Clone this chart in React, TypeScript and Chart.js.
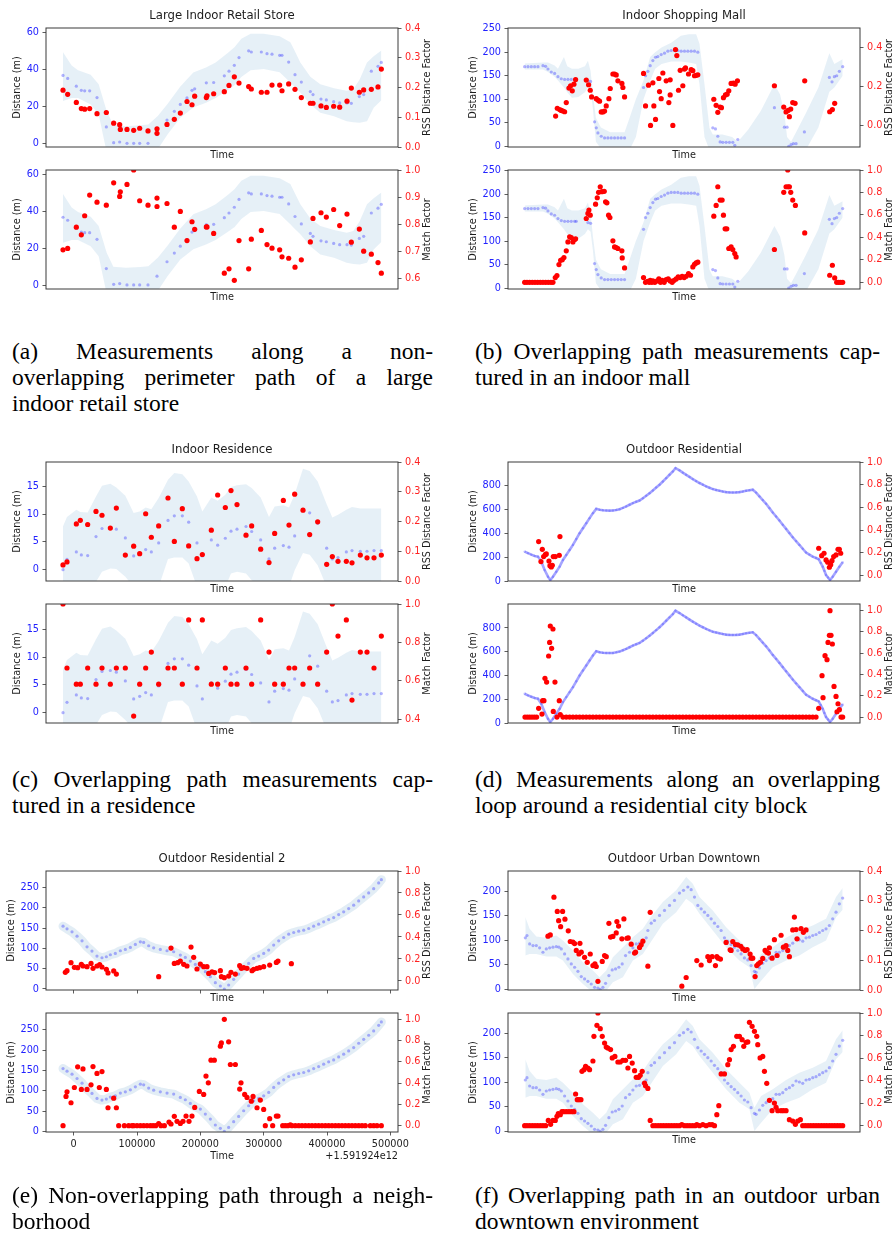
import React, { useEffect, useRef } from "react";
import { Chart, registerables } from "chart.js";
Chart.register(...registerables);

const FONT = '"DejaVu Sans", sans-serif';
const PW = 352;
const PH = 119;

// ---------------- (a) Large Indoor Retail Store ----------------
const A_BLUE_T = [0,14,40,55,65,80,102,130,152,170,192,212,230,255,282,312,334,352,372,387,395,430,452,484,498,514,528,557,565,595,612,627,650,657,677,696,715,742,750,774,790,812,830,852,865,889,902,925,945,955];
const A_BLUE = [36.7,35.1,30.9,28.7,28.4,28.4,24.8,9.0,0.5,0.9,0.2,0.2,0.2,0.2,4.9,12.7,17.4,21.1,24.6,28.7,29.5,32.7,32.9,36.5,39.0,42.1,46.3,49.9,49.3,49.3,48.4,48.1,47.5,47.5,43.9,37.1,33.1,28.0,26.4,24.0,23.5,22.6,21.9,21.9,21.7,25.3,26.4,39.0,41.6,43.7];
const A_BAND_T = [0,26,45,83,107,131,151,189,232,256,285,314,352,391,429,458,496,515,535,563,602,650,682,692,712,742,772,813,851,871,890,912,932,955];
const A_BAND_HI = [49.2,42,39.5,37,32,17.5,10,9.4,9.9,10.3,15,21.5,30.7,38.3,41,43.7,49,52,56.4,59.1,59.1,57.8,54.6,51,43.7,36,32,29.8,28.4,29.3,34.5,43.7,47,50.1];
const A_BAND_LO = [23,24.5,24.5,21,15.7,-4.5,-9.6,-9.6,-9.6,-9.6,-2.8,5,13.9,19.5,22,24.5,29,31.5,35.8,39.5,40.1,38.4,32.9,31,27.5,21.1,16.6,14.8,12.1,11.5,11.2,12.1,19.3,23.3];
const A_RED_T = [0,14,40,55,65,80,102,130,152,170,172,192,212,230,255,282,282,312,334,352,372,387,395,430,432,452,484,498,514,528,557,565,595,612,627,650,657,677,696,715,742,750,774,790,812,830,852,865,889,902,925,945,955];
const A_RSS = [0.191,0.177,0.150,0.129,0.127,0.129,0.112,0.116,0.080,0.075,0.059,0.059,0.056,0.063,0.054,0.061,0.046,0.076,0.093,0.114,0.153,0.142,0.171,0.166,0.172,0.179,0.186,0.207,0.236,0.215,0.203,0.195,0.184,0.184,0.208,0.208,0.189,0.212,0.194,0.166,0.147,0.147,0.138,0.133,0.137,0.134,0.154,0.198,0.184,0.192,0.194,0.202,0.262];
const A_MF = [0.707,0.712,0.790,0.762,0.832,0.908,0.882,0.871,0.953,0.903,0.920,0.947,1.0,0.887,0.871,0.897,0.866,0.877,0.790,0.848,0.741,0.810,0.782,0.791,0.791,0.767,0.621,0.637,0.595,0.741,0.637,0.746,0.778,0.726,0.713,0.707,0.681,0.676,0.643,0.670,0.736,0.822,0.843,0.827,0.855,0.796,0.838,0.735,0.783,0.702,0.691,0.660,0.621];

// ---------------- (b) Indoor Shopping Mall ----------------
const B_BLUE_T = [0,10,20,30,40,55,63,70,80,90,100,110,120,130,140,150,155,190,198,210,215,220,230,240,250,260,270,280,290,300,357,363,370,377,385,393,400,410,420,430,440,450,460,470,480,490,500,510,520,565,573,580,587,595,605,615,625,631,640,750,780,788,793,800,807,815,840,915,923,930,937,945,955];
const B_BLUE = [169.3,169.3,169.3,169.3,169.3,171.4,170,164.3,157.9,155,147.9,143.6,142.1,142.1,142.1,142.1,142.1,139.3,137.9,52.1,39.3,28.6,21.4,17.9,17.9,17.9,17.9,17.9,17.9,17.9,125,150,159.3,171.4,182.1,189.3,190.7,195,197.9,202.1,203.6,203.6,203.6,202.1,202.1,202.1,202.1,202.1,200,39.3,37.1,21.4,9.3,8.6,8.6,8.6,8.6,2.1,14.3,82.1,40.7,40.7,0,3.6,5.7,5.7,30.7,146.4,137.1,147.9,150,159.3,169.3];
const B_BAND_T = [0,55,70,90,100,118,128,142,161,181,190,198,205,214,229,257,300,315,334,357,377,392,411,440,469,493,515,525,540,555,565,594,623,640,671,709,750,767,780,788,800,815,844,882,915,930,955];
const B_BAND_LO = [163,163,158,148,140,125,115,103,105,115,125,120,80,10,-5,-8,-8,-8,20,100,140,165,175,180,180,178,175,132,20,-8,-8,-8,-8,-8,-8,-8,-8,-8,-8,-8,-8,-8,-8,40,116,125,150];
const B_BAND_HI = [176,178,178,172,165,190,170,165,165,170,182,160,110,60,40,30,30,60,100,140,190,200,210,220,235,238,238,218,132,39,25,25,20,10,35,75,132,110,70,20,10,30,70,125,198,175,185];
const B_RSS_T = [93,98,105,110,115,120,125,133,138,143,148,153,185,192,197,201,215,220,225,230,235,240,245,253,257,265,270,275,280,292,295,300,357,363,372,378,385,388,393,403,405,410,415,425,433,437,437,445,453,457,462,467,475,480,483,492,500,505,510,515,520,568,575,580,587,591,597,603,608,613,620,627,632,639,750,778,785,791,795,799,805,812,841,916,924,931];
const B_RSS = [0.048,0.088,0.081,0.077,0.074,0.070,0.117,0.191,0.203,0.177,0.211,0.235,0.232,0.208,0.180,0.146,0.137,0.130,0.124,0.069,0.069,0.074,0.100,0.137,0.189,0.263,0.263,0.258,0.228,0.215,0.194,0.146,0.266,0.100,0.206,0.000,0.218,0.100,0.031,0.240,0.173,0.137,0.268,0.228,0.117,0.156,0.233,0.000,0.388,0.357,0.180,0.282,0.203,0.288,0.294,0.263,0.285,0.280,0.254,0.256,0.259,0.134,0.103,0.067,0.094,0.091,0.142,0.156,0.160,0.177,0.215,0.216,0.211,0.228,0.203,0.094,0.069,0.077,0.045,0.084,0.117,0.113,0.228,0.070,0.081,0.113];
const B_MF_T = [0,7,15,23,31,39,47,55,63,71,79,85,92,97,103,108,113,118,125,130,135,140,145,150,153,185,190,193,197,213,218,222,227,232,239,243,247,252,256,265,270,275,280,292,293,300,357,363,369,374,377,382,385,391,398,403,408,413,419,425,431,437,443,449,455,461,467,473,479,485,492,498,505,510,515,520,568,575,580,587,593,597,602,607,613,620,625,631,635,750,778,785,790,791,795,799,805,813,841,916,924,931,937,943,949,955];
const B_MF = [0,0,0,0,0,0,0,0,0,0,0,0,0.042,0.060,0.158,0.196,0.202,0.220,0.280,0.360,0.405,0.399,0.360,0.381,0.387,0.568,0.613,0.643,0.598,0.696,0.753,0.801,0.851,0.807,0.810,0.717,0.708,0.598,0.577,0.369,0.315,0.310,0.301,0.280,0.217,0.128,0.042,0,0.009,0,0.018,0,0.012,0,0.012,0.030,0,0.018,0,0.024,0.030,0.012,0,0.018,0.030,0.048,0.042,0.054,0.042,0.054,0.077,0.063,0.137,0.161,0.173,0.179,0.589,0.685,0.851,0.732,0.732,0.598,0.476,0.476,0.301,0.315,0.292,0.256,0.226,0.292,0.801,0.851,1.0,0.851,0.851,0.801,0.732,0.685,0.440,0.063,0.152,0.039,0,0,0,0];

// ---------------- (c) Indoor Residence ----------------
const C_BLUE_T = [0,12,40,55,74,99,117,142,160,187,212,230,248,265,287,315,334,358,377,402,418,445,464,487,504,522,549,566,593,618,635,661,678,695,740,764,791,808,825,850,867,892,912,933,955];
const C_BLUE = [0,1.87,3.19,2.65,2.53,5.96,7.41,7.59,7.29,5.72,2.47,2.95,3.61,3.19,4.82,8.86,9.7,9.7,8.55,4.82,2.47,5.36,4.4,5.66,6.93,7.29,7.77,6.87,5.36,1.93,3.86,4.34,4.04,6.08,10.24,8.37,3.86,1.93,2.17,3.19,3.43,3.31,3.31,3.43,3.43];
const C_T = [0,12,40,52,74,99,117,142,160,187,212,230,248,265,287,315,334,358,377,402,418,445,464,487,504,522,549,566,593,618,635,661,678,695,720,740,764,791,808,825,850,867,892,912,933,955];
const C_BAND_HI = [7.8,9.5,10.8,10.4,10.3,13.2,15.1,15.5,14.8,13.3,10.2,10.5,11.2,10.9,12.9,16.2,17.4,17.2,15.9,13.2,10.5,13.0,12.4,13.5,14.9,15.2,15.4,14.7,13.0,9.5,11.4,11.6,11.2,13.6,18.2,17.8,15.9,11.8,9.4,9.9,10.8,11.3,11.0,11.0,11.0,11.0];
const C_BAND_LO = [-3.1,-3.1,-3.1,-3.1,-3.1,-2.2,-0.4,0.2,0.1,-1.3,-3.1,-3.1,-3.1,-3.1,-3.1,1.9,2.2,2.2,1.1,-3.1,-3.1,-3.1,-3.1,-3.1,-0.7,-0.4,-0.7,-1.9,-3.1,-3.1,-3.1,-3.1,-3.1,-0.1,3.0,2.7,0.8,-3.1,-3.1,-3.1,-3.1,-3.1,-3.1,-3.1,-3.1,-3.1];
const C_RSS = [0.054,0.064,0.192,0.204,0.190,0.234,0.221,0.178,0.245,0.087,0.117,0.092,0.226,0.147,0.185,0.279,0.133,0.243,0.118,0.075,0.089,0.171,0.289,0.247,0.304,0.257,0.154,0.185,0.107,0.062,0.160,0.271,0.188,0.292,0.238,0.156,0.199,0.056,0.082,0.066,0.066,0.061,0.087,0.078,0.078,0.087];
const C_MF = [1.0,0.667,0.583,0.583,0.667,0.583,0.667,0.583,0.667,0.667,0.417,0.583,0.667,0.75,0.583,0.667,0.667,0.583,0.917,0.667,0.917,0.583,0.583,0.667,0.583,0.583,0.667,0.583,0.917,0.75,0.583,0.583,0.667,0.667,0.583,0.667,0.583,0.75,1.0,0.833,0.917,0.5,0.75,0.75,0.667,0.833];

// ---------------- (d) Outdoor Residential ----------------
const D_BLUE_T = [0,10,20,30,40,50,60,70,77,85,95,105,115,125,135,145,155,165,175,185,195,205,215,225,235,245,255,265,275,285,295,305,315,325,335,345,355,365,375,385,395,405,415,425,435,445,453,465,475,485,495,505,515,525,535,545,555,565,575,585,595,605,615,625,635,645,655,665,675,685,695,705,715,725,735,745,755,765,775,785,795,805,815,825,835,845,855,865,875,883,889,895,900,905,911,917,925,935,945,955];
const D_BLUE = [246,233,221,210,204,162,92,36,8,36,78,120,176,218,260,302,351,400,442,484,526,568,604,596,592,590,589,590,595,601,612,624,638,652,663,674,693,713,735,758,782,806,833,861,889,917,945,926,907,889,871,853,836,820,806,792,780,769,762,755,749,744,742,741,742,744,749,755,760,764,740,708,677,646,610,573,540,506,471,436,401,366,334,302,270,238,221,204,192,182,151,120,85,50,29,8,36,78,120,157];
const D_RSS_T = [42,49,53,57,62,65,73,76,80,83,86,92,104,106,883,892,899,905,910,915,919,923,928,935,941,945,949];
const D_RSS = [0.300,0.124,0.232,0.168,0.185,0.191,0.129,0.088,0.076,0.091,0.168,0.168,0.179,0.344,0.241,0.176,0.197,0.138,0.118,0.074,0.097,0.132,0.168,0.182,0.232,0.232,0.197];
const D_MF_T = [1,8,15,22,29,36,42,52,54,58,61,66,72,75,77,81,85,86,91,97,104,107,
  115,125,135,145,155,165,175,185,195,205,215,225,235,245,255,265,275,285,295,305,315,325,335,345,355,365,375,385,395,405,415,425,435,445,455,465,475,485,495,505,515,525,535,545,555,565,575,585,595,605,615,625,635,645,655,665,675,685,695,705,715,725,735,745,755,765,775,785,795,805,815,825,835,845,855,865,875,
  883,893,896,902,908,911,915,917,920,924,929,935,938,941,945,950,955];
const D_MF = [0,0,0,0,0,0,0.082,0.028,0.154,0.154,0.364,0.329,0.574,0.702,0.856,0.646,0.828,0.053,0.329,0,0.154,0.022,
  0,0,0,0,0,0,0,0,0,0, 0,0,0,0,0,0,0,0,0,0, 0,0,0,0,0,0,0,0,0,0, 0,0,0,0,0,0,0,0,0,0, 0,0,0,0,0,0,0,0,0,0, 0,0,0,0,0,0,0,0,0,0, 0,0,0,0,0,0,0,0,0,0, 0,0,0,0,0,0,0,
  0.082,0.389,0.182,0.577,0.539,0.702,0.768,1.0,0.768,0.687,0.288,0.194,0.050,0.125,0.069,0,0];

// ---------------- (e) Outdoor Residential 2 (time in ms, offset 1.591924e12) ----------------
const E_BLUE_T = [-16800,-10500,-2600,5300,13200,21100,28900,36800,44700,51600,57900,65800,73700,81600,89500,97400,105300,110500,118400,126300,136800,147400,157900,168400,176300,184200,192100,200000,207900,215800,223700,231600,237900,244700,252600,260500,268400,276300,284200,292100,300000,307900,315800,323700,331600,339500,347400,355300,363200,371100,378900,386800,394700,402600,410500,418400,426300,434200,442100,450000,457900,465800,473700,481600,485800];
const E_BLUE = [154.9,148.4,141,130.3,118.9,104.1,93.4,81.1,77,79.5,84.4,87.7,94.3,97.5,102.5,109.8,116.4,114.8,106.6,101.6,97.5,94.3,91.8,83.6,77.9,68.9,60.7,54.9,42.6,30.3,15.6,7.4,0,9.8,23.8,36.9,50.8,63.1,75.4,81.1,87.7,95.9,108.2,118.9,127,135.2,139.3,142.6,145.1,149.2,154.9,159.8,165.6,171.3,176.2,183.6,190.2,198.4,206.6,217.2,227,236.9,247.5,261.5,269.7];
const E_RSS_T = [-13200,-10500,-4200,1100,6300,12100,14700,21100,27400,30500,36800,41100,44700,51600,54200,63200,67400,134200,153700,158900,164200,168400,173700,178900,185300,189500,194700,200000,205300,210500,213200,218400,222600,231600,233200,237900,244700,248400,255300,262100,264700,268400,273700,281600,284200,289500,293700,300000,309500,320000,322600,343700];
const E_RSS = [0.079,0.094,0.166,0.124,0.121,0.151,0.136,0.130,0.160,0.115,0.136,0.148,0.127,0.106,0.073,0.091,0.063,0.039,0.299,0.160,0.166,0.181,0.151,0.136,0.308,0.215,0.109,0.154,0.130,0.130,0.069,0.082,0.076,0.094,0.039,0.030,0.045,0.079,0.063,0.139,0.115,0.121,0.115,0.094,0.106,0.115,0.121,0.130,0.145,0.169,0.181,0.157];
const E_MF_T = [-16800,-12100,-10500,-4200,1100,6300,12100,14700,21100,27400,30500,36800,40500,44700,51600,54200,63200,67400,71100,80000,86800,92100,94700,100000,105300,110500,115800,121100,125300,129500,134200,137900,143200,150500,153700,158900,163200,168400,172600,177400,182100,186800,191100,198400,205300,208900,212600,216800,222100,231600,233200,237900,244700,247400,255300,262100,264200,270000,273700,280500,283200,289500,294700,300000,302600,309500,314200,320000,322600,330000,334200,338400,342100,344700,350000,355300,360500,365800,371100,376300,381600,386800,392100,397400,402600,407900,413200,418400,423700,428900,434200,439500,444700,450000,455300,460500,468400,473700,478900,485800];
const E_MF = [0,0.275,0.319,0.216,0.359,0.553,0.341,0.534,0.341,0.384,
  0.556,0.491,0.359,0.509,0.341,0.169,0.259,0.169,0,0,
  0,0,0,0,0,0,0,0,0,0,
  0.019,0,0,0.034,0.016,0.088,0.041,0.022,0.041,0.091,
  0.041,0.091,0.172,0.322,0.294,0.466,0.403,0.616,0.616,0.747,
  0.778,1.0,0.788,0.575,0.575,0.344,0.403,0.294,0.266,0.231,
  0.275,0.169,0.241,0.153,0,0.066,0,0.091,0.091,0,
  0,0,0.009,0,0,0,0,0,0,0,
  0,0,0,0,0,0,0,0,0,0,
  0,0,0,0,0,0,0,0,0,0];
const E_X_TICKS = [0,100000,200000,300000,400000,500000];

// ---------------- (f) Outdoor Urban Downtown ----------------
const F_BLUE_T = [2,7,15,25,35,45,55,65,75,85,95,103,110,120,130,140,150,160,170,180,190,200,210,220,227,235,243,253,263,273,283,293,303,315,325,335,345,355,365,370,380,390,405,420,435,450,465,477,490,500,510,520,530,540,550,560,570,580,590,600,610,620,630,640,650,660,670,680,690,695,705,715,725,735,745,755,765,775,785,795,805,815,825,835,845,855,865,875,885,895,905,915,925,935,945,955];
const F_BLUE = [104.8,109.5,92.5,89.1,89.1,84.4,75.5,82.3,84.4,85.7,87.1,85.7,82.3,72.1,61.9,51.7,44.9,36.7,25.9,21.1,16.3,10.9,4.1,2.7,0,4.1,12.2,27.9,39.5,41.5,44.9,51.7,68.7,75.5,84.4,92.5,93.9,98,104.8,119.7,134.7,140.1,150.3,160.5,170.7,181,195.9,201.4,208.2,202.7,187.8,170.7,163.9,157.1,150.3,143.5,134.7,127.9,119.7,104.8,98,91.2,85.7,78.9,72.1,63.9,59.9,48.3,36.7,34.7,43.5,53.1,58.5,63.9,66.7,75.5,75.5,78.9,85.7,89.1,93.9,102.7,100.7,98,104.8,106.1,109.5,111.6,115.6,119.7,123.1,129.9,143.5,157.1,174.1,185.7];
const F_BAND_T = [2,15,35,65,95,115,145,175,205,225,245,265,295,325,355,375,415,455,485,505,525,565,605,645,675,690,710,745,785,825,865,905,935,955];
const F_BAND_HI = [146.9,123.1,107.5,104.8,109.5,99.3,78.9,55.1,38.1,24.5,38.1,65.3,85.7,106.1,123.1,143.5,177.6,201.4,228.6,215,187.8,160.5,126.5,99.3,78.9,48.3,72.1,85.7,104.8,119.7,129.9,143.5,187.8,206.1];
const F_BAND_LO = [68.7,72.1,72.1,66.7,66.7,58.5,31.3,10.9,-6.1,-8.2,-2.7,14.3,24.5,58.5,72.1,92.5,133.3,157.1,184.4,174.1,153.7,119.7,85.7,58.5,44.9,0.7,17.7,44.9,58.5,68.7,85.7,99.3,146.9,161.9];
const F_RSS_T = [70,77,88,98,102,108,114,121,131,137,145,150,155,163,166,170,180,188,197,205,211,215,220,233,240,245,253,258,265,275,277,282,292,298,307,311,320,330,333,345,350,355,370,377,472,485,517,530,550,555,563,573,577,581,588,605,617,620,625,633,640,649,655,662,668,677,680,685,692,697,702,708,715,722,727,732,735,743,750,758,770,777,785,790,795,805,810,815,818,830,837,845];
const F_RSS = [0.181,0.185,0.312,0.264,0.233,0.213,0.264,0.238,0.199,0.163,0.161,0.156,0.133,0.121,0.157,0.127,0.110,0.093,0.121,0.082,0.088,0.079,0.029,0.096,0.116,0.112,0.224,0.178,0.180,0.192,0.230,0.215,0.172,0.239,0.174,0.175,0.154,0.124,0.127,0.143,0.152,0.164,0.080,0.261,0.013,0.042,0.099,0.084,0.112,0.099,0.112,0.082,0.112,0.107,0.104,0.160,0.135,0.133,0.163,0.153,0.152,0.147,0.138,0.133,0.136,0.121,0.107,0.107,0.045,0.082,0.088,0.093,0.106,0.133,0.127,0.124,0.142,0.107,0.169,0.116,0.184,0.144,0.149,0.133,0.112,0.202,0.245,0.203,0.172,0.206,0.194,0.202];
const F_MF_T = [0,7,15,23,31,39,47,55,63,
  71,78,85,92,97,101,107,112,117,125,133,141,148,153,158,163,169,172,178,183,190,195,205,208,217,220,227,233,240,245,250,258,263,271,280,287,295,303,310,315,323,330,335,342,347,353,360,363,370,377,
  385,393,401,409,417,425,433,441,449,457,465,472,480,488,496,504,512,517,525,535,545,555,563,570,
  577,583,590,600,610,615,620,627,637,645,653,658,665,670,675,683,690,697,700,707,715,720,727,735,743,750,755,760,770,777,785,795,805,813,820,828,835,
  843,851,859,867,875,883,891,899,907,915,923,931,939,947,955];
const F_MF = [0,0,0,0,0,0,0,0,0,
  0.047,0.012,0.047,0.047,0.083,0.107,0.098,0.124,0.124,0.124,0.124,0.124,0.124,0.281,0.231,0.231,0.231,0.482,0.497,0.527,0.512,0.497,0.574,0.793,0.891,1.0,0.861,0.793,0.734,0.698,0.689,0.675,0.601,0.615,0.565,0.565,0.580,0.580,0.512,0.615,0.556,0.488,0.429,0.429,0.447,0.482,0.379,0.355,0.331,0.047,
  0,0,0,0,0,0,0,0,0,0,0,0.009,0,0,0,0,0,0.009,0,0.009,0,0.009,0.009,0,
  0.098,0.178,0.459,0.459,0.541,0.586,0.675,0.704,0.793,0.793,0.763,0.704,0.740,0.743,0.917,0.882,0.837,0.793,0.719,0.601,0.615,0.482,0.376,0.225,0.133,0.201,0.163,0.133,0.133,0.133,0.133,0.053,0.041,0.012,0.041,0.053,0,
  0,0,0,0,0,0,0,0,0,0,0,0,0,0,0];

// ---------------- tick values ----------------
const TICKS_0_60 = [0, 20, 40, 60];
const TICKS_0_250 = [0, 50, 100, 150, 200, 250];
const TICKS_0_200 = [0, 50, 100, 150, 200];
const TICKS_0_15 = [0, 5, 10, 15];
const TICKS_0_800 = [0, 200, 400, 600, 800];
const TICKS_R_04 = [0, 0.1, 0.2, 0.3, 0.4];
const TICKS_R_04B = [0, 0.2, 0.4];
const TICKS_R_06_10 = [0.6, 0.7, 0.8, 0.9, 1.0];
const TICKS_R_04_10 = [0.4, 0.6, 0.8, 1.0];
const TICKS_R_0_10 = [0, 0.2, 0.4, 0.6, 0.8, 1.0];

const TITLES = ["Large Indoor Retail Store", "Indoor Shopping Mall", "Indoor Residence", "Outdoor Residential", "Outdoor Residential 2", "Outdoor Urban Downtown"];

const CAPTIONS = [
  ["(a) Measurements along a non-", "overlapping perimeter path of a large", "indoor retail store"],
  ["(b) Overlapping path measurements cap-", "tured in an indoor mall"],
  ["(c) Overlapping path measurements cap-", "tured in a residence"],
  ["(d) Measurements along an overlapping", "loop around a residential city block"],
  ["(e) Non-overlapping path through a neigh-", "borhood"],
  ["(f) Overlapping path in an outdoor urban", "downtown environment"],
];

// ---------------- layout ----------------
const COLS = [
  { px: 46, lw: 46, rw: 48, xMin: -51, xMax: 1005, capX: 12, capW: 421 },
  { px: 508, lw: 62, rw: 33, xMin: -50, xMax: 1007, capX: 475, capW: 405 },
];
const ROWS = [
  { top: 28, bottom: 170, cap: 339 },
  { top: 462, bottom: 604, cap: 767 },
  { top: 871, bottom: 1013, cap: 1183 },
];

type Sub = any;

const SUBS: Sub[] = [
  // (a)
  { col: 0, py: ROWS[0].top, tp: 28, bh: 16, title: TITLES[0], yMin: -1.8, yMax: 62.2, yTicks: TICKS_0_60, y2Min: 0, y2Max: 0.4, y2Ticks: TICKS_R_04, y2Label: "RSS Distance Factor", yLabelDist: 28.5,
    blue: [A_BLUE_T, A_BLUE], band: [A_BAND_T, A_BAND_LO, A_BAND_HI], red: [A_RED_T, A_RSS] },
  { col: 0, py: ROWS[0].bottom, tp: 8, bh: 16, yMin: -2, yMax: 62.2, yTicks: TICKS_0_60, y2Min: 0.563, y2Max: 1.0, y2Ticks: TICKS_R_06_10, y2Label: "Match Factor", yLabelDist: 28.5,
    blue: [A_BLUE_T, A_BLUE], band: [A_BAND_T, A_BAND_LO, A_BAND_HI], red: [A_RED_T, A_MF] },
  // (b)
  { col: 1, py: ROWS[0].top, tp: 28, bh: 16, title: TITLES[1], yMin: -1.4, yMax: 251.4, yTicks: TICKS_0_250, y2Min: -0.11, y2Max: 0.498, y2Ticks: TICKS_R_04B, y2Label: "RSS Distance Factor", yLabelDist: 35,
    blue: [B_BLUE_T, B_BLUE], band: [B_BAND_T, B_BAND_LO, B_BAND_HI], red: [B_RSS_T, B_RSS] },
  { col: 1, py: ROWS[0].bottom, tp: 8, bh: 16, yMin: -2.1, yMax: 251.4, yTicks: TICKS_0_250, y2Min: -0.0595, y2Max: 1.0, y2Ticks: TICKS_R_0_10, y2Label: "Match Factor", yLabelDist: 35,
    blue: [B_BLUE_T, B_BLUE], band: [B_BAND_T, B_BAND_LO, B_BAND_HI], red: [B_MF_T, B_MF] },
  // (c)
  { col: 0, py: ROWS[1].top, tp: 28, bh: 16, title: TITLES[2], yMin: -2.05, yMax: 19.4, yTicks: TICKS_0_15, y2Min: 0, y2Max: 0.4, y2Ticks: TICKS_R_04, y2Label: "RSS Distance Factor", yLabelDist: 28.5,
    blue: [C_BLUE_T, C_BLUE], band: [C_T, C_BAND_LO, C_BAND_HI], red: [C_T, C_RSS] },
  { col: 0, py: ROWS[1].bottom, tp: 8, bh: 16, yMin: -1.86, yMax: 19.56, yTicks: TICKS_0_15, y2Min: 0.381, y2Max: 1.0, y2Ticks: TICKS_R_04_10, y2Label: "Match Factor", yLabelDist: 28.5,
    blue: [C_BLUE_T, C_BLUE], band: [C_T, C_BAND_LO, C_BAND_HI], red: [C_T, C_MF] },
  // (d)
  { col: 1, py: ROWS[1].top, tp: 28, bh: 16, title: TITLES[3], yMin: 0, yMax: 996, yTicks: TICKS_0_800, y2Min: -0.047, y2Max: 1.0, y2Ticks: TICKS_R_0_10, y2Label: "RSS Distance Factor", yLabelDist: 35,
    blue: [D_BLUE_T, D_BLUE], lineBlue: true, red: [D_RSS_T, D_RSS] },
  { col: 1, py: ROWS[1].bottom, tp: 8, bh: 16, yMin: 0, yMax: 1002, yTicks: TICKS_0_800, y2Min: -0.056, y2Max: 1.063, y2Ticks: TICKS_R_0_10, y2Label: "Match Factor", yLabelDist: 35,
    blue: [D_BLUE_T, D_BLUE], lineBlue: true, red: [D_MF_T, D_MF] },
  // (e)
  { col: 0, py: ROWS[2].top, tp: 28, bh: 16, title: TITLES[4], xMin: -43700, xMax: 512100, xTicks: E_X_TICKS, yMin: -2.5, yMax: 291, yTicks: TICKS_0_250, y2Min: -0.082, y2Max: 1.0, y2Ticks: TICKS_R_0_10, y2Label: "RSS Distance Factor", yLabelDist: 35,
    blue: [E_BLUE_T, E_BLUE], halo: true, red: [E_RSS_T, E_RSS] },
  { col: 0, py: ROWS[2].bottom, tp: 8, bh: 40, xMin: -43700, xMax: 512100, xTicks: E_X_TICKS, xTickLabels: true, xLabelDist: 24, offsetText: "+1.591924e12", yMin: -1.6, yMax: 291.8, yTicks: TICKS_0_250, y2Min: -0.059, y2Max: 1.059, y2Ticks: TICKS_R_0_10, y2Label: "Match Factor", yLabelDist: 35,
    blue: [E_BLUE_T, E_BLUE], halo: true, red: [E_MF_T, E_MF] },
  // (f)
  { col: 1, py: ROWS[2].top, tp: 28, bh: 16, title: TITLES[5], yMin: -1.36, yMax: 240.8, yTicks: TICKS_0_200, y2Min: 0, y2Max: 0.4, y2Ticks: TICKS_R_04, y2Label: "RSS Distance Factor", yLabelDist: 35,
    blue: [F_BLUE_T, F_BLUE], band: [F_BAND_T, F_BAND_LO, F_BAND_HI], red: [F_RSS_T, F_RSS] },
  { col: 1, py: ROWS[2].bottom, tp: 8, bh: 16, yMin: -1.36, yMax: 241.5, yTicks: TICKS_0_200, y2Min: -0.056, y2Max: 1.0, y2Ticks: TICKS_R_0_10, y2Label: "Match Factor", yLabelDist: 35,
    blue: [F_BLUE_T, F_BLUE], band: [F_BAND_T, F_BAND_LO, F_BAND_HI], red: [F_MF_T, F_MF] },
];

const pts = (t: number[], v: number[]) => t.map((x, i) => ({ x, y: v[i] }));

const decorPlugin = {
  id: "decor",
  afterDraw(chart: any, _args: any, o: any) {
    const { ctx, chartArea: a } = chart;
    const cx = (a.left + a.right) / 2;
    const cy = (a.top + a.bottom) / 2;
    ctx.save();
    ctx.strokeStyle = "#3a3a3a";
    ctx.lineWidth = 1;
    ctx.strokeRect(a.left, a.top, a.right - a.left, a.bottom - a.top);
    ctx.fillStyle = "#1c1c1c";
    ctx.textAlign = "center";
    ctx.textBaseline = "middle";
    if (o.title) {
      ctx.font = `11.7px ${FONT}`;
      ctx.fillText(o.title, cx, a.top - 11.7);
    }
    ctx.font = `9.7px ${FONT}`;
    ctx.fillText("Time", cx, a.bottom + o.xLabelDist);
    if (o.offsetText) {
      ctx.textAlign = "right";
      ctx.fillText(o.offsetText, a.right, a.bottom + o.xLabelDist);
      ctx.textAlign = "center";
    }
    ctx.save();
    ctx.translate(a.left - o.yLabelDist, cy);
    ctx.rotate(-Math.PI / 2);
    ctx.fillText("Distance (m)", 0, 0);
    ctx.restore();
    ctx.save();
    ctx.translate(a.right + o.y2LabelDist, cy);
    ctx.rotate(-Math.PI / 2);
    ctx.fillText(o.y2Label, 0, 0);
    ctx.restore();
    ctx.restore();
  },
};

function yScale(pos: string, min: number, max: number, ticks: number[], color: string, width: number, dec: number) {
  return {
    type: "linear",
    position: pos,
    min,
    max,
    bounds: "data",
    afterBuildTicks: (s: any) => { s.ticks = ticks.map((v) => ({ value: v })); },
    afterFit: (s: any) => { s.width = width; s.paddingTop = 0; s.paddingBottom = 0; s.paddingLeft = 0; s.paddingRight = 0; },
    ticks: { color, font: { family: FONT, size: 9.7 }, padding: 3.5, autoSkip: false, callback: (v: any) => Number(v).toFixed(dec) },
    grid: { display: true, drawOnChartArea: false, drawTicks: true, tickLength: 3.5, tickColor: "#333", tickWidth: 0.8 },
    border: { display: false },
  };
}

function SubChart({ s }: { s: Sub }) {
  const ref = useRef<HTMLCanvasElement>(null);
  const col = COLS[s.col];
  const W = col.lw + PW + col.rw;
  const H = s.tp + PH + s.bh;
  useEffect(() => {
    const blueDs: any = s.lineBlue
      ? { data: pts(s.blue[0], s.blue[1]), yAxisID: "y", showLine: true, borderColor: "rgba(40,40,255,0.42)", borderWidth: 2.6, pointRadius: 1.2, pointBackgroundColor: "rgba(40,40,255,0.25)", pointBorderWidth: 0, order: 1 }
      : { data: pts(s.blue[0], s.blue[1]), yAxisID: "y", showLine: false, pointRadius: 1.6, pointBackgroundColor: "rgba(25,25,255,0.33)", pointBorderWidth: 0, order: 1 };
    const datasets: any[] = [
      { data: pts(s.red[0], s.red[1]), yAxisID: "y2", showLine: false, pointRadius: 2.6, pointBackgroundColor: "#ff0000", pointBorderWidth: 0, order: 0 },
      blueDs,
    ];
    if (s.halo) {
      datasets.push({ data: pts(s.blue[0], s.blue[1]), yAxisID: "y", showLine: true, borderColor: "rgba(31,119,180,0.13)", borderWidth: 9, borderCapStyle: "round", borderJoinStyle: "round", pointRadius: 0, order: 2 });
    }
    if (s.band) {
      datasets.push({ data: pts(s.band[0], s.band[1]), yAxisID: "y", showLine: true, borderWidth: 0, borderColor: "rgba(0,0,0,0)", pointRadius: 0, order: 3 });
      datasets.push({ data: pts(s.band[0], s.band[2]), yAxisID: "y", showLine: true, borderWidth: 0, borderColor: "rgba(0,0,0,0)", pointRadius: 0, fill: "-1", backgroundColor: "rgba(31,119,180,0.11)", order: 4 });
    }
    const hasXTicks = !!s.xTicks;
    const chart = new Chart(ref.current as HTMLCanvasElement, {
      type: "line",
      data: { datasets },
      options: {
        responsive: false,
        animation: false,
        devicePixelRatio: 1,
        events: [],
        layout: { padding: { top: s.tp, left: 0, right: 0, bottom: 0 }, autoPadding: false },
        plugins: {
          legend: { display: false },
          tooltip: { enabled: false },
          decor: { title: s.title, y2Label: s.y2Label, yLabelDist: s.yLabelDist, y2LabelDist: 29.7, xLabelDist: s.xLabelDist ?? 8, offsetText: s.offsetText },
        } as any,
        scales: {
          x: {
            type: "linear",
            position: "bottom",
            min: s.xMin ?? col.xMin,
            max: s.xMax ?? col.xMax,
            bounds: "data",
            afterBuildTicks: hasXTicks ? (sc: any) => { sc.ticks = s.xTicks.map((v: number) => ({ value: v })); } : undefined,
            afterFit: (sc: any) => { sc.height = s.bh; sc.paddingLeft = 0; sc.paddingRight = 0; sc.paddingTop = 0; sc.paddingBottom = 0; },
            ticks: { display: !!s.xTickLabels, color: "#222", font: { family: FONT, size: 9.7 }, padding: 3.5, maxRotation: 0, autoSkip: false, callback: (v: any) => String(v) },
            grid: { display: hasXTicks, drawOnChartArea: false, drawTicks: true, tickLength: 3.5, tickColor: "#333", tickWidth: 0.8 },
            border: { display: false },
          },
          y: yScale("left", s.yMin, s.yMax, s.yTicks, "#2222ff", col.lw, 0),
          y2: yScale("right", s.y2Min, s.y2Max, s.y2Ticks, "#ff2222", col.rw, 1),
        } as any,
      } as any,
      plugins: [decorPlugin as any],
    });
    return () => chart.destroy();
  }, []);
  return (
    <canvas
      ref={ref}
      width={W}
      height={H}
      style={{ position: "absolute", left: col.px - col.lw, top: s.py - s.tp, width: W, height: H }}
    />
  );
}

function Caption({ x, w, top, lines }: { x: number; w: number; top: number; lines: string[] }) {
  return (
    <>
      {lines.map((ln, i) => (
        <div
          key={i}
          style={{
            position: "absolute",
            left: x,
            top: top + i * 25.8,
            width: w,
            height: 25.8,
            font: '23.5px "Liberation Serif", "Times New Roman", serif',
            lineHeight: "25.8px",
            textAlign: "justify",
            textAlignLast: i < lines.length - 1 ? "justify" : "left",
            color: "#000",
            whiteSpace: "normal",
          } as any}
        >
          {ln}
        </div>
      ))}
    </>
  );
}

export default function App() {
  return (
    <div style={{ position: "absolute", left: 0, top: 0, width: 893, height: 1233, background: "#fff", overflow: "hidden" }}>
      {SUBS.map((s, i) => (
        <SubChart key={i} s={s} />
      ))}
      {CAPTIONS.map((lines, i) => {
        const col = COLS[i % 2];
        const row = ROWS[Math.floor(i / 2)];
        return <Caption key={"c" + i} x={col.capX} w={col.capW} top={row.cap} lines={lines} />;
      })}
    </div>
  );
}
